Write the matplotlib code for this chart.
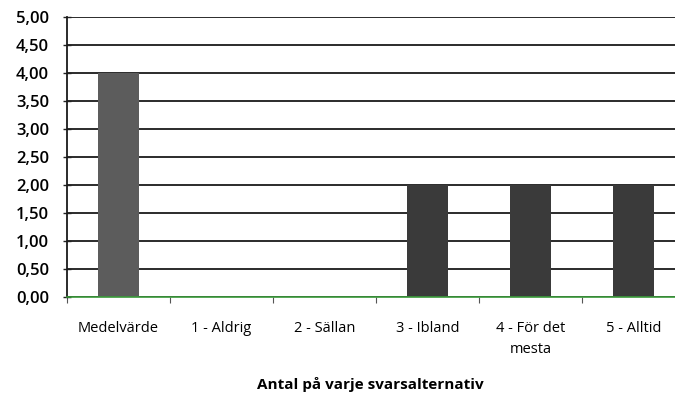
import matplotlib.pyplot as plt
import numpy as np

categories = ["Medelvärde", "1 - Aldrig", "2 - Sällan", "3 - Ibland", "4 - För det\nmesta", "5 - Alltid"]
values = [4.0, 0.0, 0.0, 2.0, 2.0, 2.0]
bar_colors = ["#5c5c5c", "#3a3a3a", "#3a3a3a", "#3a3a3a", "#3a3a3a", "#3a3a3a"]
yticks = np.arange(0, 5.01, 0.5)

plt.rcParams["font.family"] = ["Open Sans", "DejaVu Sans"]

fig = plt.figure(figsize=(6.75, 3.99), dpi=100)
# axes run slightly past the right edge, like the cropped original
ax = fig.add_axes([67 / 675, 1 - 297 / 399, 618 / 675, 280 / 399])

x = np.arange(len(categories))
ax.bar(x, values, width=0.39, color=bar_colors, zorder=3)

ax.set_xlim(-0.5, len(categories) - 0.5)
ax.set_ylim(0, 5)
ax.set_yticks(yticks)
ax.set_yticklabels([f"{v:.2f}".replace(".", ",") for v in yticks], fontsize=12)
for lab in ax.get_yticklabels():
    lab.set_fontweight("semibold")
ax.grid(axis="y", color="#1a1a1a", linewidth=1.3, zorder=1)
ax.tick_params(axis="y", direction="inout", length=6, width=1, pad=10, color="#222222")

# category boundaries carry the ticks; labels centered under each bar
ax.set_xticks(np.arange(len(categories) + 1) - 0.5)
ax.set_xticklabels([])
ax.set_xticks(x, minor=True)
ax.set_xticklabels(categories, minor=True, fontsize=10.5, linespacing=1.55, va="top")
ax.tick_params(axis="x", which="major", direction="out", length=4, color="#555555")
ax.tick_params(axis="x", which="minor", length=0, pad=17)

for side in ["top", "right"]:
    ax.spines[side].set_visible(False)
ax.spines["left"].set_color("#1a1a1a")
ax.spines["left"].set_linewidth(1.3)
ax.spines["bottom"].set_color("#3a9a3a")
ax.spines["bottom"].set_linewidth(1.2)
ax.spines["bottom"].set_zorder(4)

fig.text(370 / 675, 1 - 384 / 399, "Antal på varje svarsalternativ", ha="center", va="center",
         fontsize=11, fontweight="bold")

fig.savefig("out.png", dpi=100)
